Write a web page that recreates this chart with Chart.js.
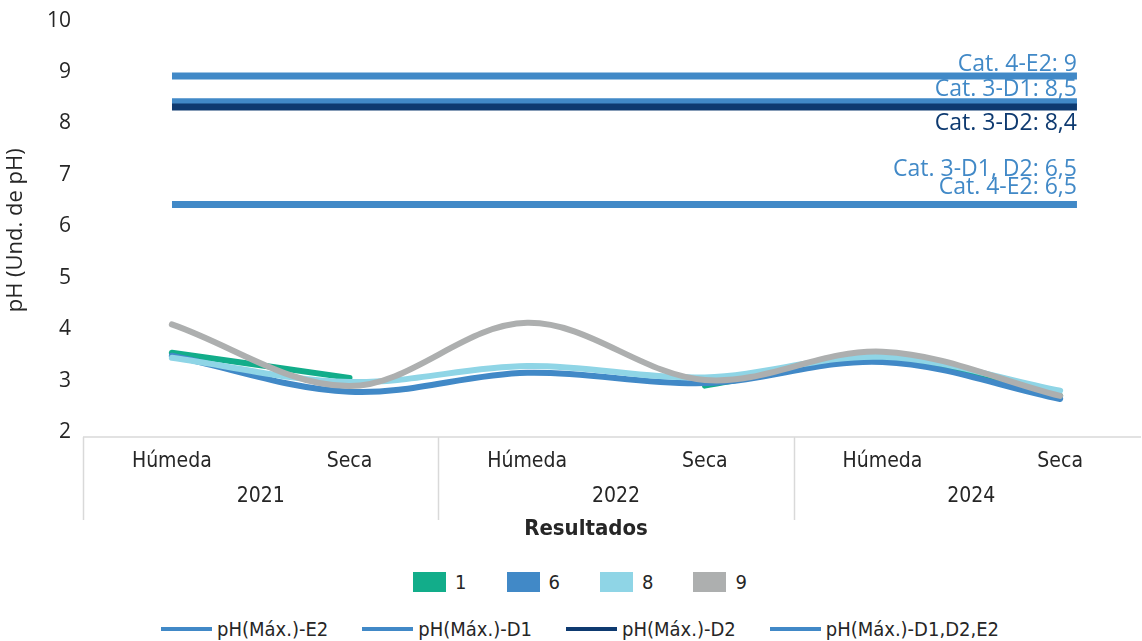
<!DOCTYPE html>
<html>
<head>
<meta charset="utf-8">
<script src="https://cdn.jsdelivr.net/npm/chart.js@4.4.0/dist/chart.umd.min.js"></script>
<style>
html,body{margin:0;padding:0;background:#fff;overflow:hidden;width:1142px;height:641px;}
#wrap{position:relative;width:1142px;height:641px;overflow:hidden;background:#fff;}
#c{position:absolute;left:0;top:0;}
.leg{position:absolute;left:0;width:1142px;box-sizing:border-box;padding-left:18px;display:flex;justify-content:center;align-items:center;
     font-family:"DejaVu Sans Condensed","DejaVu Sans",sans-serif;font-size:20px;color:#262626;}
#leg1{top:569px;height:26px;gap:40px;}
#leg2{top:617px;height:24px;gap:34px;}
.item{display:flex;align-items:center;white-space:nowrap;}
.box{width:33px;height:20px;margin-right:9px;}
.ln{width:51px;height:4px;margin-right:5px;}
</style>
</head>
<body>
<div id="wrap">
  <canvas id="c" width="1150" height="545" style="width:1150px;height:545px;"></canvas>
  <div id="leg1" class="leg"></div>
  <div id="leg2" class="leg"></div>
</div>
<script>
// ---------- data ----------
const seasons = ['Húmeda', 'Seca', 'Húmeda', 'Seca', 'Húmeda', 'Seca'];
const years = ['2021', '2022', '2024'];
const seriesNames = ['1', '6', '8', '9'];
const serie1 = [3.62, 3.13, null, 2.98, 3.50, 2.78];
const serie6 = [3.56, 2.86, 3.23, 3.03, 3.44, 2.72];
const serie8 = [3.52, 3.05, 3.36, 3.14, 3.54, 2.88];
const serie9 = [4.17, 2.97, 4.20, 3.09, 3.64, 2.78];
const limitNames = ['pH(Máx.)-E2', 'pH(Máx.)-D1', 'pH(Máx.)-D2', 'pH(Máx.)-D1,D2,E2'];
const limitValues = [9, 8.5, 8.4, 6.5];
const limitLabels = [['Cat. 4-E2: 9'], ['Cat. 3-D1: 8,5'], ['Cat. 3-D2: 8,4'], ['Cat. 3-D1, D2: 6,5', 'Cat. 4-E2: 6,5']];
const yMin = 2, yMax = 10, yStep = 1;
const yTitle = 'pH (Und. de pH)';
const xTitle = 'Resultados';

// ---------- styles ----------
const seriesColors = ['#12AD8A', '#4189C7', '#8FD5E6', '#ADAFAF'];
const seriesOrder = [3, 2, 1, 0];
const limitColors = ['#4189C7', '#4189C7', '#0E3A70', '#4189C7'];
const limitOrder = [6, 5, 4, 7];
const limitLabelOffsets = [[-12], [-12], [17], [-35, -17]];
const limitTextColors = ['#4189C7', '#4189C7', '#0E3A70', '#4189C7'];
const SANS = '"Open Sans", "Noto Sans", sans-serif';
const COND = '"DejaVu Sans Condensed", "DejaVu Sans", sans-serif';
const TXT = '#262626';

const seriesData = [serie1, serie6, serie8, serie9];
const datasets = [];
seriesData.forEach((d, i) => {
  datasets.push({
    label: seriesNames[i], data: d, borderColor: seriesColors[i], backgroundColor: seriesColors[i],
    borderWidth: 6, pointRadius: 0, pointHoverRadius: 0, tension: 0.35,
    borderCapStyle: 'round', borderJoinStyle: 'round', spanGaps: false, fill: false,
    order: seriesOrder[i], xAxisID: 'x', yAxisID: 'y'
  });
});
limitValues.forEach((v, i) => {
  datasets.push({
    label: limitNames[i], data: seasons.map((_, k) => ({x: k, y: v})),
    borderColor: limitColors[i], backgroundColor: limitColors[i],
    borderWidth: 7, pointRadius: 0, pointHoverRadius: 0, tension: 0,
    borderCapStyle: 'butt', fill: false, order: limitOrder[i], xAxisID: 'x2', yAxisID: 'y',
    isLimit: true, limitIndex: i
  });
});

const decor = {
  id: 'decor',
  afterDatasetsDraw(chart) {
    const ctx = chart.ctx;
    ctx.save();
    ctx.font = '23px ' + SANS;
    ctx.textAlign = 'right';
    ctx.textBaseline = 'middle';
    chart.data.datasets.forEach((ds, di) => {
      if (!ds.isLimit) return;
      const meta = chart.getDatasetMeta(di);
      const last = meta.data[meta.data.length - 1];
      const li = ds.limitIndex;
      ctx.fillStyle = limitTextColors[li];
      limitLabels[li].forEach((t, k) => {
        ctx.fillText(t, last.x, last.y + limitLabelOffsets[li][k]);
      });
    });
    ctx.restore();
  },
  afterDraw(chart) {
    const ctx = chart.ctx, a = chart.chartArea, x = chart.scales.x;
    const half = (x.getPixelForValue(1) - x.getPixelForValue(0)) / 2;
    ctx.save();
    ctx.strokeStyle = '#D9D9D9';
    ctx.lineWidth = 1.5;
    ctx.beginPath();
    ctx.moveTo(a.left, a.bottom + 1);
    ctx.lineTo(a.right - 8, a.bottom + 1);
    ctx.stroke();
    const per = seasons.length / years.length;
    const seps = [];
    for (let g = 0; g <= years.length; g++) {
      const px = g < years.length ? x.getPixelForValue(g * per) - half
                                  : x.getPixelForValue(seasons.length - 1) + half;
      seps.push(px);
      if (g < years.length) {
        ctx.beginPath();
        ctx.moveTo(Math.round(px) + 0.5, a.bottom + 1);
        ctx.lineTo(Math.round(px) + 0.5, a.bottom + 84);
        ctx.stroke();
      }
    }
    ctx.fillStyle = TXT;
    ctx.textAlign = 'center';
    ctx.textBaseline = 'middle';
    ctx.font = '21px ' + COND;
    seasons.forEach((s, i) => ctx.fillText(s, x.getPixelForValue(i), a.bottom + 26));
    years.forEach((yv, g) => ctx.fillText(yv, (seps[g] + seps[g + 1]) / 2, a.bottom + 61));
    ctx.font = 'bold 22px ' + COND;
    ctx.fillText(xTitle, 586, a.bottom + 93);
    ctx.restore();
  }
};

const chart = new Chart(document.getElementById('c'), {
  type: 'line',
  data: { labels: seasons, datasets: datasets },
  options: {
    responsive: false, animation: false,
    layout: { padding: { top: 24.6, right: 1, left: 0, bottom: 0 } },
    plugins: { legend: { display: false }, tooltip: { enabled: false } },
    scales: {
      x: {
        type: 'category', offset: true,
        grid: { display: false, drawTicks: false }, border: { display: false },
        ticks: { display: false },
        afterFit(s) { s.height = 109; }
      },
      x2: {
        type: 'linear', display: false, min: -0.4917, max: 5.398
      },
      y: {
        min: yMin, max: yMax,
        ticks: { stepSize: yStep, color: TXT, font: { family: SANS, size: 21 }, padding: 12, labelOffset: -4 },
        grid: { display: false, drawTicks: false }, border: { display: false },
        title: { display: true, text: yTitle, color: TXT, font: { family: SANS, size: 22 }, padding: { top: 3, bottom: 0 } },
        afterFit(s) { s.width = 83; }
      }
    }
  },
  plugins: [decor]
});

// ---------- legend (HTML) ----------
const leg1 = document.getElementById('leg1');
seriesNames.forEach((n, i) => {
  const it = document.createElement('div'); it.className = 'item';
  const b = document.createElement('span'); b.className = 'box'; b.style.background = seriesColors[i];
  const t = document.createElement('span'); t.textContent = n;
  it.appendChild(b); it.appendChild(t); leg1.appendChild(it);
});
const leg2 = document.getElementById('leg2');
limitNames.forEach((n, i) => {
  const it = document.createElement('div'); it.className = 'item';
  const b = document.createElement('span'); b.className = 'ln'; b.style.background = limitColors[i];
  const t = document.createElement('span'); t.textContent = n;
  it.appendChild(b); it.appendChild(t); leg2.appendChild(it);
});
</script>
</body>
</html>
